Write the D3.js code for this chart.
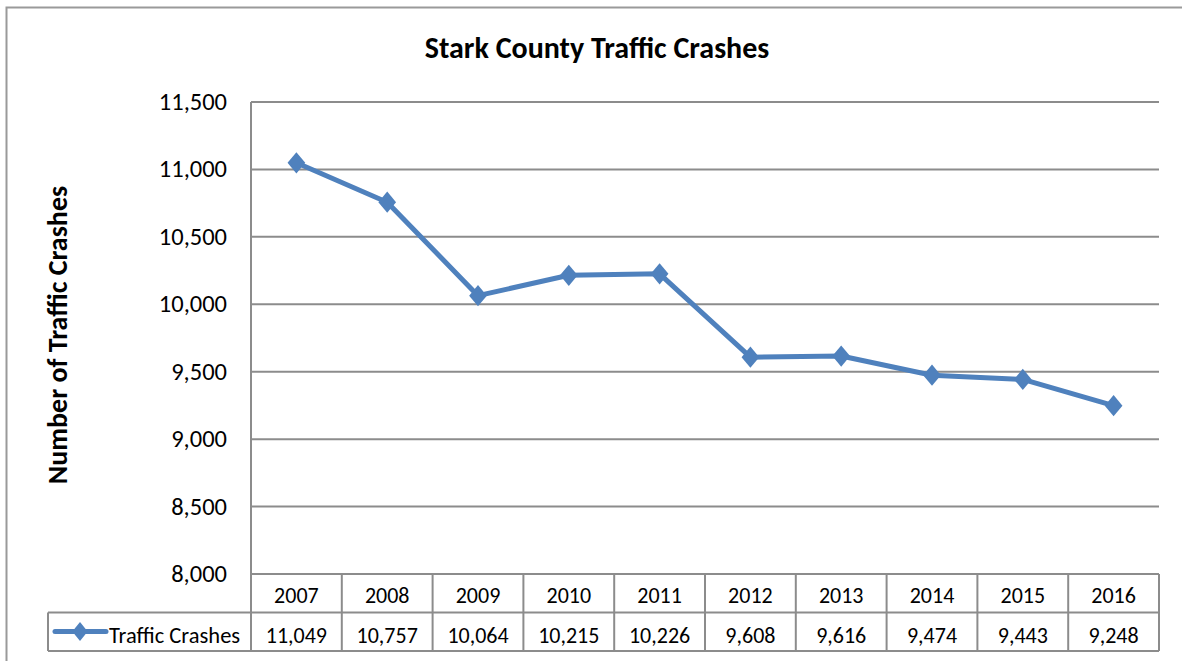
<!DOCTYPE html>
<html>
<head>
<meta charset="utf-8">
<script src="https://cdn.jsdelivr.net/npm/d3@7"></script>
<style>
  html, body { margin: 0; padding: 0; background: #fff; }
  svg { display: block; }
  text { font-family: Carlito, Lato, "Open Sans", sans-serif; fill: #000; }
</style>
</head>
<body>
<svg id="chart" width="1182" height="661"></svg>
<script>
// Annual crash counts
const years = ["2007", "2008", "2009", "2010", "2011", "2012", "2013", "2014", "2015", "2016"];
const crashes = [11049, 10757, 10064, 10215, 10226, 9608, 9616, 9474, 9443, 9248];
const yTicks = [8000, 8500, 9000, 9500, 10000, 10500, 11000, 11500];
const seriesName = "Traffic Crashes";

const svg = d3.select("#chart");
const W = 1182, H = 661;
const plot = { left: 251, right: 1159, top: 102, bottom: 574 };
const rowH = 38.5;
const legendLeft = 48;
const blue = "#4F81BD";
const grid = "#8c8c8c";
const fmt = d3.format(",");

// outer frame
svg.append("rect").attr("x", 6.5).attr("y", 7.5).attr("width", W + 10).attr("height", H + 10)
  .attr("fill", "#fff").attr("stroke", "#9a9a9a").attr("stroke-width", 2);

const x = d3.scaleBand().domain(years).range([plot.left, plot.right]);
const y = d3.scaleLinear().domain([8000, 11500]).range([plot.bottom, plot.top]);

// title
svg.append("text").attr("x", 597).attr("y", 58).attr("text-anchor", "middle")
  .attr("font-size", 30).attr("font-weight", "bold")
  .text("Stark County Traffic Crashes");

// horizontal gridlines
svg.append("g").selectAll("line").data(yTicks).join("line")
  .attr("x1", plot.left).attr("x2", plot.right)
  .attr("y1", d => y(d)).attr("y2", d => y(d))
  .attr("stroke", grid).attr("stroke-width", 2);

// left axis line
svg.append("line").attr("x1", plot.left).attr("x2", plot.left)
  .attr("y1", plot.top).attr("y2", plot.bottom + 2 * rowH)
  .attr("stroke", grid).attr("stroke-width", 2);

// y tick labels
svg.append("g").selectAll("text").data(yTicks).join("text")
  .attr("x", 227).attr("y", d => y(d) + 8).attr("text-anchor", "end")
  .attr("font-size", 24.5).text(d => fmt(d));

// y axis title
svg.append("text").attr("transform", `translate(67,${(plot.top + plot.bottom) / 2 - 3}) rotate(-90)`)
  .attr("text-anchor", "middle").attr("font-size", 28).attr("font-weight", "bold")
  .text("Number of Traffic  Crashes");

// data table
const table = svg.append("g");
const r1 = plot.bottom, r2 = plot.bottom + rowH, r3 = plot.bottom + 2 * rowH;
// horizontal table lines
table.append("line").attr("x1", plot.left).attr("x2", plot.right).attr("y1", r1).attr("y2", r1)
  .attr("stroke", grid).attr("stroke-width", 2);
table.append("line").attr("x1", legendLeft).attr("x2", plot.right).attr("y1", r2).attr("y2", r2)
  .attr("stroke", grid).attr("stroke-width", 2);
table.append("line").attr("x1", legendLeft).attr("x2", plot.right).attr("y1", r3).attr("y2", r3)
  .attr("stroke", grid).attr("stroke-width", 2);
table.append("line").attr("x1", legendLeft).attr("x2", legendLeft).attr("y1", r2).attr("y2", r3)
  .attr("stroke", grid).attr("stroke-width", 2);
// column separators
table.selectAll("line.col").data(years).join("line").attr("class", "col")
  .attr("x1", d => x(d) + x.bandwidth()).attr("x2", d => x(d) + x.bandwidth())
  .attr("y1", r1).attr("y2", r3).attr("stroke", grid).attr("stroke-width", 2);

table.selectAll("text.yr").data(years).join("text").attr("class", "yr")
  .attr("x", d => x(d) + x.bandwidth() / 2).attr("y", r1 + 29)
  .attr("text-anchor", "middle").attr("font-size", 22).text(d => d);
table.selectAll("text.val").data(crashes).join("text").attr("class", "val")
  .attr("x", (d, i) => x(years[i]) + x.bandwidth() / 2).attr("y", r2 + 30)
  .attr("text-anchor", "middle").attr("font-size", 22).text(d => fmt(d));

// legend key inside table
const diamond = d3.symbol().type(d3.symbolDiamond2).size(150);
table.append("line").attr("x1", 55).attr("x2", 106).attr("y1", r2 + 19).attr("y2", r2 + 19)
  .attr("stroke", blue).attr("stroke-width", 5).attr("stroke-linecap", "round");
table.append("path").attr("d", diamond).attr("transform", `translate(80,${r2 + 19}) scale(1,1.25)`)
  .attr("fill", blue);
table.append("text").attr("x", 109).attr("y", r2 + 30).attr("font-size", 22.5)
  .text(seriesName);

// series line
const line = d3.line().x((d, i) => x(years[i]) + x.bandwidth() / 2).y(d => y(d));
svg.append("path").datum(crashes).attr("d", line).attr("fill", "none")
  .attr("stroke", blue).attr("stroke-width", 5).attr("stroke-linejoin", "round");

svg.append("g").selectAll("path").data(crashes).join("path")
  .attr("d", d3.symbol().type(d3.symbolDiamond2).size(200))
  .attr("transform", (d, i) => `translate(${x(years[i]) + x.bandwidth() / 2},${y(d)}) scale(1,1.2)`)
  .attr("fill", blue);
</script>
</body>
</html>
